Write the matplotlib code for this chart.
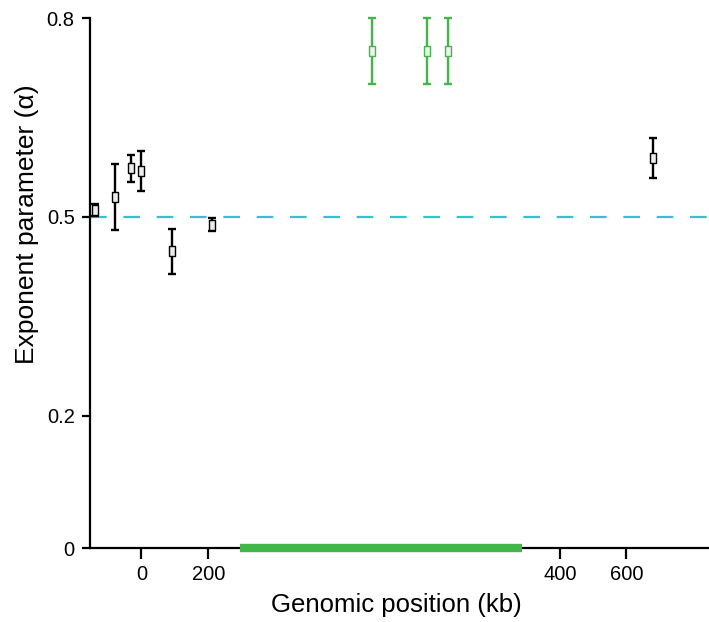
import numpy as np
import matplotlib
matplotlib.use("Agg")
import matplotlib.pyplot as plt

plt.rcParams['font.family'] = ['Liberation Sans', 'DejaVu Sans']

# Data (genomic position in kb, exponent alpha, error)
black_pos = [-140, -80, -30, 0, 90, 202, 679]
black_alpha = [0.510, 0.530, 0.573, 0.569, 0.448, 0.488, 0.589]
black_err = [0.009, 0.050, 0.020, 0.030, 0.034, 0.010, 0.030]

green_pos = [293, 324, 336]
green_alpha = [0.750, 0.750, 0.750]
green_err = [0.050, 0.050, 0.050]

gene_start, gene_end = 218, 378
reference_alpha = 0.5

x_ticks = [0, 200, 400, 600]
y_ticks = [0, 0.2, 0.5, 0.8]
y_ticklabels = ["0", "0.2", "0.5", "0.8"]

# piecewise-linear axis (region 200-400 kb expanded)
kb_knots = np.array([-2000, 0, 200, 400, 600, 3000], dtype=float)
u_knots = np.array([-2000 * 0.335, 0, 67, 419, 485, 485 + 2400 * 0.33])

def fwd(x):
    return np.interp(x, kb_knots, u_knots)

def inv(u):
    return np.interp(u, u_knots, kb_knots)

fig = plt.figure(figsize=(7.09, 6.22), dpi=100)
ax = fig.add_axes([90 / 709, 1 - 548 / 622, 619 / 709, 530 / 622])
ax.set_xscale('function', functions=(fwd, inv))
ax.set_xlim(-153.7, 850)
ax.set_ylim(0, 0.8)

cyan = '#3bbfd0'
green = '#43b649'

ax.axhline(reference_alpha, color=cyan, lw=1.6, dashes=(7.5, 7.5), zorder=1)

rect = [(-0.3, -0.5), (0.3, -0.5), (0.3, 0.5), (-0.3, 0.5), (-0.3, -0.5)]

ax.errorbar(black_pos, black_alpha, yerr=black_err, fmt='none', ecolor='black',
            elinewidth=1.7, capsize=3, capthick=1.7, zorder=3, clip_on=False)
ax.plot(black_pos, black_alpha, linestyle='none', marker=rect, markersize=7.5,
        markerfacecolor='#ececec', markeredgecolor='black', markeredgewidth=1.0,
        zorder=4, clip_on=False)

ax.errorbar(green_pos, green_alpha, yerr=green_err, fmt='none', ecolor=green,
            elinewidth=1.7, capsize=3, capthick=1.7, zorder=3, clip_on=False)
ax.plot(green_pos, green_alpha, linestyle='none', marker=rect, markersize=7.5,
        markerfacecolor='#e8f6e8', markeredgecolor=green, markeredgewidth=1.0,
        zorder=4, clip_on=False)

ax.plot([gene_start, gene_end], [0, 0], color=green, lw=6, solid_capstyle='butt',
        zorder=5, clip_on=False)

for s in ['top', 'right']:
    ax.spines[s].set_visible(False)
for s in ['left', 'bottom']:
    ax.spines[s].set_linewidth(1.6)

ax.set_xticks(x_ticks)
ax.set_xticklabels([str(t) for t in x_ticks])
ax.set_yticks(y_ticks)
ax.set_yticklabels(y_ticklabels)
ax.xaxis.set_minor_locator(matplotlib.ticker.NullLocator())
ax.tick_params(axis='x', length=8, width=1.6, labelsize=14.5, pad=4)
ax.tick_params(axis='y', length=6, width=1.6, labelsize=14.5, pad=5)

ax.set_xlabel('Genomic position (kb)', fontsize=18.5)
ax.set_ylabel('Exponent parameter (α)', fontsize=19)
ax.xaxis.set_label_coords(0.495, -0.085)
ax.yaxis.set_label_coords(-0.082, 0.611)

fig.savefig('out.png', dpi=100)
